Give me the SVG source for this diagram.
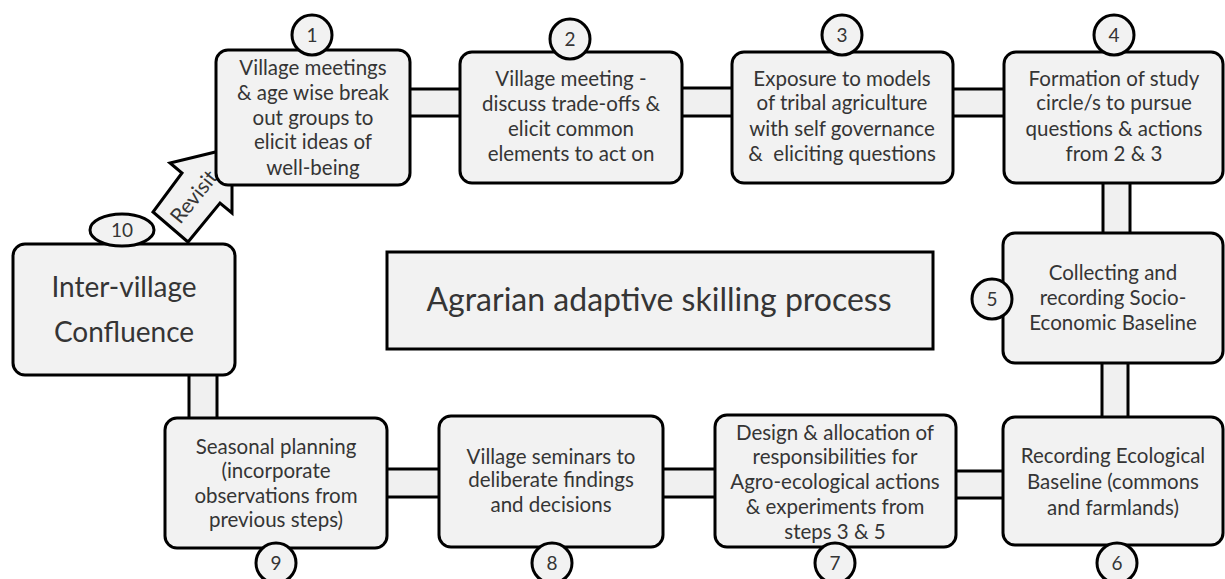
<svg xmlns="http://www.w3.org/2000/svg" width="1225" height="579" viewBox="0 0 1225 579">
<style>
  .box{fill:#f2f2f2;stroke:#000;stroke-width:3}
  .conn{fill:#f0f0f0;stroke:#000;stroke-width:3}
  .num{fill:#f2f2f2;stroke:#000;stroke-width:3}
  text{font-family:Lato,"Open Sans",sans-serif;fill:#353535;text-anchor:middle}
  .t{font-size:20.5px}
  .n{font-size:19px}
  .rv{font-size:21px}
  .big{font-size:28px}
  .title{font-size:32px}
</style>
<rect width="1225" height="579" fill="#fff"/>
<g id="connectors">
  <rect class="conn" x="408" y="89" width="54" height="27"/>
  <rect class="conn" x="680" y="88" width="54" height="28"/>
  <rect class="conn" x="951" y="89" width="55" height="27"/>
  <rect class="conn" x="1103" y="181" width="27" height="54"/>
  <rect class="conn" x="1102" y="361" width="26" height="58"/>
  <rect class="conn" x="954" y="471" width="51" height="27"/>
  <rect class="conn" x="661" y="469" width="56" height="28"/>
  <rect class="conn" x="385" y="469" width="56" height="28"/>
  <rect class="conn" x="189" y="373" width="28" height="47"/>
</g>
<g id="center">
  <rect x="387" y="252" width="546" height="97" fill="#f2f2f2" stroke="#000" stroke-width="3"/>
  <text class="title" x="659" y="311">Agrarian adaptive skilling process</text>
</g>
<g id="revisit">
  <polygon class="box" points="232,148 232,213 220,203 188,242 153,212 182,173 170,163"/>
  <text class="rv" transform="translate(194,197) rotate(-51)" y="7">Revisit</text>
</g>
<g id="node1">
  <rect class="box" x="216" y="50" width="194" height="135" rx="12"/>
  <circle class="num" cx="312" cy="35" r="20"/>
  <text class="n" x="312" y="42">1</text>
  <text class="t"><tspan x="313" y="75">Village meetings</tspan><tspan x="313" y="100">&amp; age wise break</tspan><tspan x="313" y="125">out groups to</tspan><tspan x="313" y="149">elicit ideas of</tspan><tspan x="313" y="175">well-being</tspan></text>
</g>
<g id="node2">
  <rect class="box" x="460" y="52" width="222" height="131" rx="12"/>
  <circle class="num" cx="570" cy="39" r="20"/>
  <text class="n" x="570" y="46">2</text>
  <text class="t"><tspan x="571" y="86">Village meeting -</tspan><tspan x="571" y="111">discuss trade-offs &amp;</tspan><tspan x="571" y="136">elicit common</tspan><tspan x="571" y="161">elements to act on</tspan></text>
</g>
<g id="node3">
  <rect class="box" x="732" y="52" width="221" height="131" rx="12"/>
  <circle class="num" cx="842" cy="35" r="20"/>
  <text class="n" x="842" y="42">3</text>
  <text class="t" xml:space="preserve"><tspan x="842" y="86">Exposure to models</tspan><tspan x="842" y="110">of tribal agriculture</tspan><tspan x="842" y="136">with self governance</tspan><tspan x="842" y="161">&amp;  eliciting questions</tspan></text>
</g>
<g id="node4">
  <rect class="box" x="1004" y="52" width="219" height="131" rx="12"/>
  <circle class="num" cx="1114" cy="35" r="20"/>
  <text class="n" x="1114" y="42">4</text>
  <text class="t"><tspan x="1114" y="86">Formation of study</tspan><tspan x="1114" y="110">circle/s to pursue</tspan><tspan x="1114" y="136">questions &amp; actions</tspan><tspan x="1114" y="161">from 2 &amp; 3</tspan></text>
</g>
<g id="node5">
  <rect class="box" x="1003" y="233" width="220" height="130" rx="12"/>
  <circle class="num" cx="992" cy="299" r="20"/>
  <text class="n" x="992" y="306">5</text>
  <text class="t"><tspan x="1113" y="280">Collecting and</tspan><tspan x="1113" y="305">recording Socio-</tspan><tspan x="1113" y="330">Economic Baseline</tspan></text>
</g>
<g id="node6">
  <rect class="box" x="1003" y="417" width="220" height="128" rx="12"/>
  <circle class="num" cx="1117" cy="563" r="20"/>
  <text class="n" x="1117" y="570">6</text>
  <text class="t"><tspan x="1113" y="463">Recording Ecological</tspan><tspan x="1113" y="489">Baseline (commons</tspan><tspan x="1113" y="515">and farmlands)</tspan></text>
</g>
<g id="node7">
  <rect class="box" x="715" y="415" width="241" height="132" rx="12"/>
  <circle class="num" cx="835" cy="563" r="20"/>
  <text class="n" x="835" y="570">7</text>
  <text class="t"><tspan x="835" y="440">Design &amp; allocation of</tspan><tspan x="835" y="464">responsibilities for</tspan><tspan x="835" y="489">Agro-ecological actions</tspan><tspan x="835" y="514">&amp; experiments from</tspan><tspan x="835" y="539">steps 3 &amp; 5</tspan></text>
</g>
<g id="node8">
  <rect class="box" x="439" y="416" width="224" height="131" rx="12"/>
  <circle class="num" cx="552" cy="563" r="20"/>
  <text class="n" x="552" y="570">8</text>
  <text class="t"><tspan x="551" y="464">Village seminars to</tspan><tspan x="551" y="487">deliberate findings</tspan><tspan x="551" y="512">and decisions</tspan></text>
</g>
<g id="node9">
  <rect class="box" x="165" y="418" width="222" height="130" rx="12"/>
  <circle class="num" cx="276" cy="563" r="20"/>
  <text class="n" x="276" y="570">9</text>
  <text class="t"><tspan x="276" y="454">Seasonal planning</tspan><tspan x="276" y="478">(incorporate</tspan><tspan x="276" y="503">observations from</tspan><tspan x="276" y="527">previous steps)</tspan></text>
</g>
<g id="node10">
  <rect class="box" x="13" y="244" width="222" height="131" rx="12"/>
  <ellipse class="num" cx="122" cy="230" rx="32" ry="16"/>
  <text class="n" x="122" y="237">10</text>
  <text class="big"><tspan x="124" y="297">Inter-village</tspan><tspan x="124" y="342">Confluence</tspan></text>
</g>
</svg>
